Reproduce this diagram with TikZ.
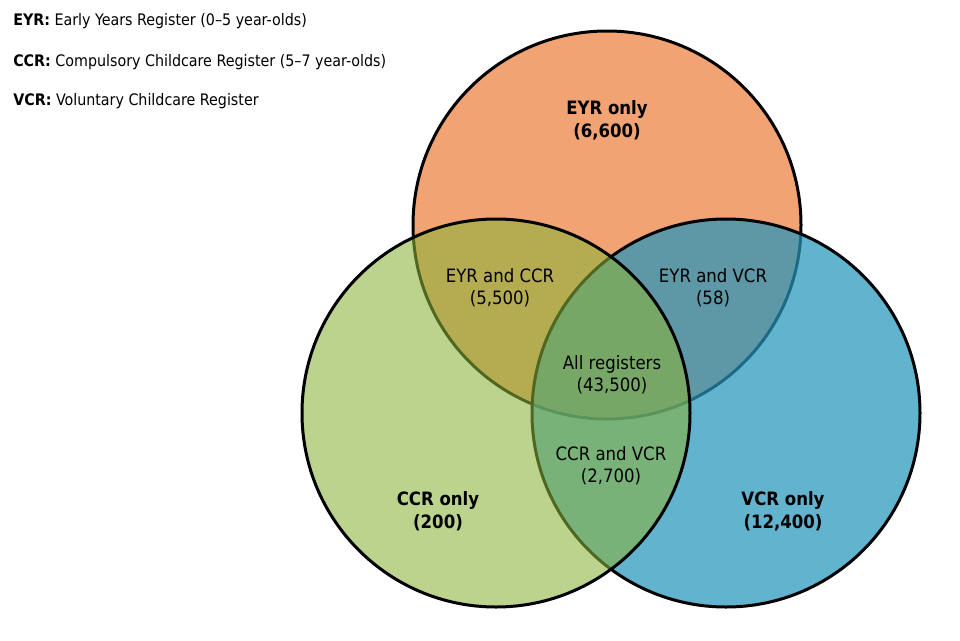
\documentclass[tikz,border=0pt]{standalone}
\usepackage{fontspec}
\setmainfont{DejaVu Sans Condensed}[BoldFont={DejaVu Sans Condensed Bold}]
\definecolor{eyrc}{RGB}{242,163,115}
\definecolor{vcrc}{RGB}{38,149,187}
\definecolor{ccrc}{RGB}{138,179,59}
\tikzset{
  venn/.style={circle, draw=black, line width=2.25pt, inner sep=0pt, minimum size=291pt},
  keyline/.style={anchor=west, inner sep=0pt, font=\fontsize{11.9}{14}\selectfont},
  region/.style={align=center, inner sep=0pt, font=\fontsize{13.8}{16.5}\selectfont},
  onlyreg/.style={region, font=\fontsize{13.8}{17.25}\selectfont\bfseries},
}
\begin{document}
\begin{tikzpicture}[x=0.75pt, y=-0.75pt]
\useasboundingbox (0,0) rectangle (960,640);
\node[venn, fill=eyrc] (eyr) at (607,225) {};
\node[venn, fill=vcrc, fill opacity=0.72] (vcr) at (726,413) {};
\node[venn, fill=ccrc, fill opacity=0.58] (ccr) at (496,413) {};
\node[keyline] (k1) at (13,21) {\textbf{EYR:} Early Years Register (0–5 year-olds)};
\node[keyline] (k2) at (13,62) {\textbf{CCR:} Compulsory Childcare Register (5–7 year-olds)};
\node[keyline] (k3) at (13,101) {\textbf{VCR:} Voluntary Childcare Register};
\node[onlyreg] (l1) at (607,120) {EYR only\\(6,600)};
\node[region] (l2) at (500,288) {EYR and CCR\\(5,500)};
\node[region] (l3) at (713,288) {EYR and VCR\\(58)};
\node[region] (l4) at (612,375) {All registers\\(43,500)};
\node[region] (l5) at (611,466) {CCR and VCR\\(2,700)};
\node[onlyreg] (l6) at (438,511) {CCR only\\(200)};
\node[onlyreg] (l7) at (783,511) {VCR only\\(12,400)};
\end{tikzpicture}
\end{document}
